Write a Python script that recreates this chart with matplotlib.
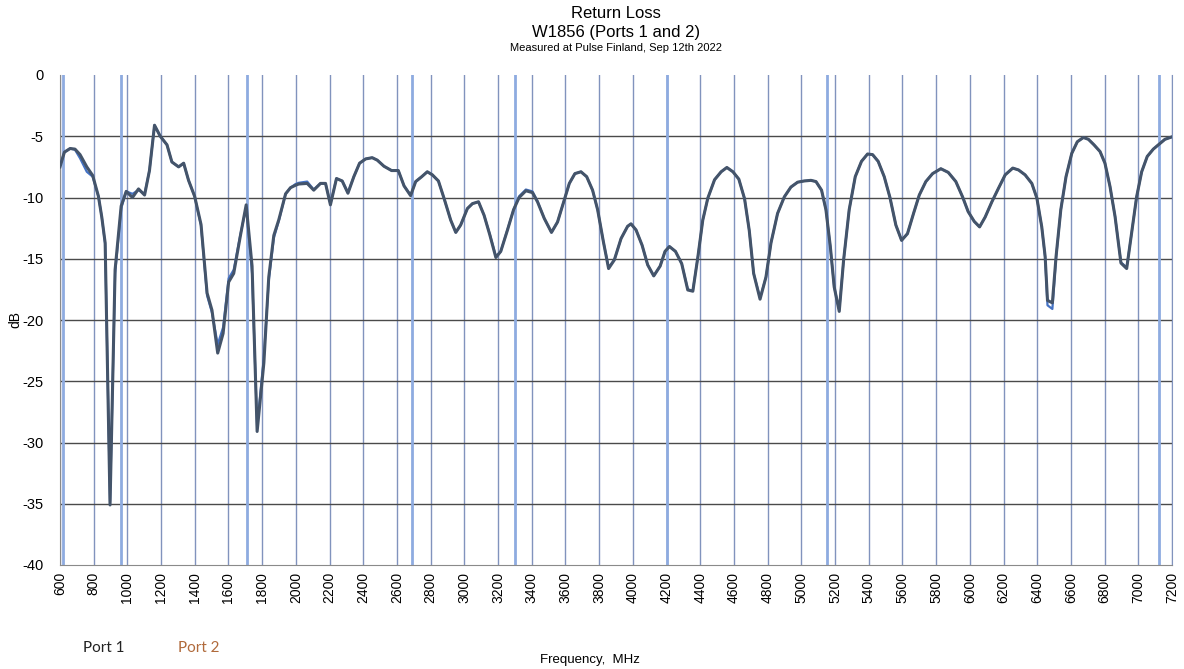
import matplotlib
matplotlib.use("Agg")
import matplotlib.pyplot as plt

plt.rcParams['font.family'] = ['Liberation Sans', 'DejaVu Sans']

freq_mhz = [600, 626, 660, 689, 719, 759, 794, 828, 848, 868, 897, 927, 963, 993,
            1030, 1066, 1102, 1131, 1161, 1195, 1235, 1264, 1304, 1334, 1363, 1399,
            1437, 1473, 1502, 1536, 1568, 1601, 1631, 1671, 1705, 1740, 1770, 1810,
            1839, 1869, 1899, 1939, 1968, 1998, 2017, 2067, 2106, 2146, 2176, 2205,
            2241, 2275, 2309, 2344, 2378, 2414, 2453, 2483, 2523, 2568, 2608, 2642,
            2681, 2711, 2747, 2780, 2810, 2846, 2879, 2919, 2949, 2978, 3018, 3048,
            3084, 3117, 3151, 3187, 3216, 3256, 3292, 3325, 3365, 3404, 3434, 3474,
            3517, 3553, 3593, 3623, 3656, 3692, 3726, 3761, 3791, 3825, 3856, 3890,
            3930, 3969, 3989, 4019, 4055, 4088, 4124, 4162, 4191, 4217, 4253, 4290,
            4326, 4356, 4386, 4415, 4445, 4485, 4524, 4558, 4594, 4629, 4663, 4691,
            4717, 4755, 4790, 4820, 4859, 4899, 4938, 4978, 5017, 5057, 5087, 5120,
            5146, 5172, 5195, 5225, 5251, 5284, 5320, 5357, 5393, 5423, 5456, 5492,
            5526, 5561, 5595, 5630, 5666, 5700, 5739, 5779, 5828, 5872, 5917, 5957,
            5990, 6026, 6058, 6091, 6131, 6170, 6210, 6255, 6289, 6328, 6368, 6398,
            6427, 6447, 6461, 6490, 6512, 6540, 6571, 6605, 6638, 6674, 6704, 6737,
            6773, 6802, 6832, 6862, 6897, 6931, 6960, 6990, 7020, 7053, 7089, 7124,
            7158, 7200]

port1_db = [-7.5, -6.3, -6.0, -6.05, -6.5, -7.5, -8.2, -9.9, -11.6, -13.7, -35.1, -15.9, -10.7, -9.5,
            -10.0, -9.3, -9.8, -7.8, -4.1, -5.0, -5.7, -7.1, -7.5, -7.2, -8.6, -9.9,
            -12.2, -17.8, -19.2, -22.7, -21.1, -16.9, -16.2, -13.1, -10.6, -15.6, -29.1, -23.5,
            -16.5, -13.1, -11.8, -9.7, -9.2, -9.0, -8.9, -8.85, -9.4, -8.85, -8.85, -10.6,
            -8.45, -8.65, -9.65, -8.3, -7.2, -6.85, -6.75, -6.95, -7.45, -7.8, -7.8, -9.05,
            -9.85, -8.7, -8.3, -7.9, -8.15, -8.65, -10.05, -11.85, -12.85, -12.25, -10.9, -10.5,
            -10.35, -11.45, -13.05, -14.9, -14.4, -12.65, -11.0, -10.0, -9.45, -9.6, -10.35, -11.7,
            -12.85, -12.0, -10.2, -8.85, -8.05, -7.9, -8.3, -9.4, -11.0, -13.6, -15.8, -15.1,
            -13.35, -12.35, -12.15, -12.65, -13.9, -15.5, -16.4, -15.6, -14.4, -14.0, -14.4, -15.4,
            -17.55, -17.65, -14.85, -11.85, -10.05, -8.55, -7.9, -7.55, -7.9, -8.5, -10.1, -12.7,
            -16.2, -18.3, -16.5, -13.7, -11.3, -9.95, -9.15, -8.75, -8.65, -8.6, -8.7, -9.4,
            -11.0, -14.0, -17.3, -19.3, -15.1, -11.0, -8.3, -7.05, -6.45, -6.5, -7.05, -8.3,
            -10.0, -12.25, -13.5, -12.95, -11.3, -9.8, -8.7, -8.05, -7.65, -7.95, -8.7, -9.95,
            -11.15, -11.95, -12.4, -11.6, -10.35, -9.25, -8.15, -7.6, -7.75, -8.15, -8.85, -10.05,
            -12.4, -14.8, -18.4, -18.6, -14.8, -11.0, -8.3, -6.4, -5.45, -5.1, -5.25, -5.7,
            -6.25, -7.2, -9.1, -11.55, -15.35, -15.8, -12.95, -9.95, -7.9, -6.65, -6.05, -5.65,
            -5.25, -5.05]

port2_db = [-7.4, -6.3, -6.0, -6.1, -6.8, -7.9, -8.3, -9.9, -11.6, -13.8, -34.8, -16.2, -10.9, -9.5,
            -9.7, -9.4, -9.7, -7.8, -4.1, -5.0, -5.7, -7.1, -7.5, -7.2, -8.6, -9.9,
            -12.3, -18.0, -19.4, -22.0, -20.6, -16.6, -15.9, -13.0, -10.8, -16.2, -28.7, -23.0,
            -16.8, -13.3, -11.9, -9.7, -9.2, -8.9, -8.8, -8.7, -9.35, -8.85, -8.85, -10.5,
            -8.45, -8.65, -9.6, -8.3, -7.2, -6.85, -6.75, -6.95, -7.45, -7.8, -7.8, -9.05,
            -9.8, -8.7, -8.3, -7.9, -8.15, -8.65, -10.05, -11.85, -12.85, -12.25, -10.9, -10.5,
            -10.35, -11.45, -13.0, -14.8, -14.4, -12.6, -11.0, -9.9, -9.35, -9.5, -10.3, -11.7,
            -12.85, -12.0, -10.2, -8.85, -8.05, -7.9, -8.3, -9.4, -11.0, -13.6, -15.7, -15.1,
            -13.35, -12.35, -12.15, -12.65, -13.9, -15.5, -16.4, -15.6, -14.4, -14.0, -14.4, -15.4,
            -17.5, -17.6, -14.85, -11.85, -10.05, -8.55, -7.9, -7.55, -7.9, -8.5, -10.1, -12.7,
            -16.2, -18.2, -16.5, -13.7, -11.3, -9.95, -9.15, -8.75, -8.65, -8.6, -8.7, -9.4,
            -11.0, -14.0, -17.3, -19.2, -15.1, -11.0, -8.3, -7.05, -6.45, -6.5, -7.05, -8.3,
            -10.0, -12.25, -13.5, -12.95, -11.3, -9.8, -8.7, -8.05, -7.65, -7.95, -8.7, -9.95,
            -11.15, -11.95, -12.4, -11.6, -10.35, -9.25, -8.15, -7.6, -7.75, -8.15, -8.85, -10.05,
            -12.4, -14.9, -18.8, -19.1, -14.9, -11.0, -8.3, -6.4, -5.45, -5.1, -5.25, -5.7,
            -6.25, -7.2, -9.1, -11.55, -15.3, -15.7, -12.95, -9.95, -7.9, -6.65, -6.05, -5.65,
            -5.25, -5.05]

band_edges_mhz = [617, 960, 1710, 2690, 3300, 4200, 5150, 7125]
x_ticks = list(range(600, 7201, 200))
y_ticks = list(range(-40, 1, 5))

fig = plt.figure(figsize=(11.84, 6.69), dpi=100)
ax = fig.add_axes([60 / 1184, 1 - 565 / 669, 1112 / 1184, 490 / 669])

ax.set_xlim(600, 7200)
ax.set_ylim(-40, 0)
ax.set_xticks(x_ticks)
ax.set_xticklabels([str(t) for t in x_ticks], rotation=90, fontsize=10)
ax.set_yticks(y_ticks)
ax.set_yticklabels([str(t) for t in y_ticks], fontsize=10.5)
ax.tick_params(axis='x', length=0, pad=5)
ax.tick_params(axis='y', length=0, pad=12)

ax.set_axisbelow(True)
ax.xaxis.grid(True, color='#8193bd', linewidth=1.0)
ax.yaxis.grid(True, color='#4a4a4a', linewidth=1.0)
ygl = ax.get_ygridlines()
ygl[-1].set_visible(False)
ygl[0].set_visible(False)

for b in band_edges_mhz:
    ax.axvline(b, color='#8eabe0', linewidth=2.0, zorder=1)

for s in ['top']:
    ax.spines[s].set_visible(False)
ax.spines['left'].set_color('#8a8a8a')
ax.spines['bottom'].set_color('#8a8a8a')
ax.spines['right'].set_color('#8193bd')

ax.plot(freq_mhz, port2_db, color='#4472c4', linewidth=1.6, zorder=3)
ax.plot(freq_mhz, port1_db, color='#44546a', linewidth=2.2, zorder=4)

cx = (60 + 1172) / 2 / 1184
fig.text(cx, 1 - 14 / 669, 'Return Loss', ha='center', va='center', fontsize=12)
fig.text(cx, 1 - 33 / 669, 'W1856 (Ports 1 and 2)', ha='center', va='center', fontsize=12)
fig.text(cx, 1 - 48 / 669, 'Measured at Pulse Finland, Sep 12th 2022', ha='center', va='center', fontsize=8)

fig.text(15 / 1184, 1 - 320 / 669, 'dB', rotation=90, ha='center', va='center', fontsize=10)
fig.text(590 / 1184, 1 - 660 / 669, 'Frequency,  MHz', ha='center', va='center', fontsize=9.5)

fig.text(83 / 1184, 1 - 648 / 669, 'Port 1', ha='left', va='center', fontsize=11,
         family=['Lato', 'DejaVu Sans'], color='#222222')
fig.text(178 / 1184, 1 - 648 / 669, 'Port 2', ha='left', va='center', fontsize=11,
         family=['Lato', 'DejaVu Sans'], color='#b06a3b')

fig.savefig('out.png', dpi=100)
